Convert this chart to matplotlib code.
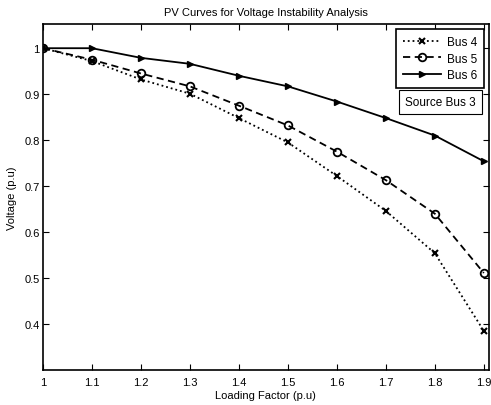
import matplotlib
matplotlib.use("Agg")
import matplotlib.pyplot as plt

plt.rcParams['font.family'] = ['Liberation Sans', 'DejaVu Sans']

loading = [1.0, 1.1, 1.2, 1.3, 1.4, 1.5, 1.6, 1.7, 1.8, 1.9]
bus4 = [1.0, 0.972, 0.932, 0.901, 0.848, 0.795, 0.722, 0.646, 0.554, 0.385]
bus5 = [1.0, 0.975, 0.945, 0.917, 0.875, 0.832, 0.775, 0.713, 0.640, 0.511]
bus6 = [1.0, 1.0, 0.979, 0.966, 0.940, 0.917, 0.884, 0.848, 0.810, 0.754]
xticks = [1.0, 1.1, 1.2, 1.3, 1.4, 1.5, 1.6, 1.7, 1.8, 1.9]
xticklabels = ['1', '1.1', '1.2', '1.3', '1.4', '1.5', '1.6', '1.7', '1.8', '1.9']
yticks = [0.4, 0.5, 0.6, 0.7, 0.8, 0.9, 1.0]
yticklabels = ['0.4', '0.5', '0.6', '0.7', '0.8', '0.9', '1']

W, H = 491, 406
fig = plt.figure(figsize=(W / 100, H / 100), dpi=100)
ax = fig.add_axes([43 / W, (H - 371) / H, (488.7 - 43) / W, (371 - 25.3) / H])

ax.plot(loading, bus4, color='black', linestyle=':', linewidth=1.3,
        marker='x', markersize=4.5, markeredgewidth=1.5, label='Bus 4')
ax.plot(loading, bus5, color='black', linestyle='--', linewidth=1.3,
        marker='o', markersize=5.5, markerfacecolor='none', markeredgewidth=1.3,
        dashes=(4, 2.5), label='Bus 5')
ax.plot(loading, bus6, color='black', linestyle='-', linewidth=1.3,
        marker='>', markersize=4.5, label='Bus 6')

ax.set_xlim(1.0, 1.91)
ax.set_ylim(0.3, 1.052)
ax.set_xticks(xticks)
ax.set_xticklabels(xticklabels)
ax.set_yticks(yticks)
ax.set_yticklabels(yticklabels)
ax.tick_params(direction='in', top=True, right=True, length=4, width=0.8,
               labelsize=8)
ax.tick_params(axis='x', pad=5)
ax.tick_params(axis='y', pad=2.5)
for s in ax.spines.values():
    s.set_linewidth(1.2)

ax.set_xlabel('Loading Factor (p.u)', fontsize=8, labelpad=2)
ax.set_ylabel('Voltage (p.u)', fontsize=8, labelpad=5)
ax.set_title('PV Curves for Voltage Instability Analysis', fontsize=8, pad=7)

leg = ax.legend(loc='upper right', fontsize=8.5, handlelength=3.2,
                fancybox=False, edgecolor='black', framealpha=1,
                borderaxespad=0.4, labelspacing=0.38, borderpad=0.6,
                handletextpad=0.5)
leg.get_frame().set_linewidth(1.2)

ax.text(0.9715, 0.776, 'Source Bus 3', transform=ax.transAxes, fontsize=8.5,
        ha='right', va='center',
        bbox=dict(boxstyle='square,pad=0.5', facecolor='white',
                  edgecolor='black', linewidth=0.8))

fig.savefig('out.png', dpi=100)
